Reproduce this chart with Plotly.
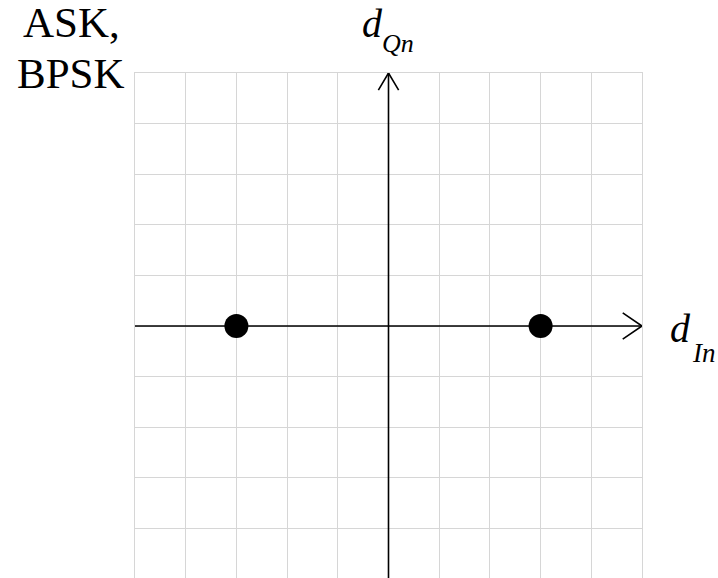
import plotly.graph_objects as go

# Constellation points for ASK / BPSK (in-phase, quadrature)
d_in = [-3, 3]
d_qn = [0, 0]

AX_MIN, AX_MAX = -5, 5
SERIF = "Liberation Serif, Times New Roman, serif"

fig = go.Figure()

# Axes drawn as lines through the origin
fig.add_trace(go.Scatter(x=[AX_MIN, AX_MAX], y=[0, 0], mode="lines",
                         line=dict(color="black", width=1.6), hoverinfo="skip"))
fig.add_trace(go.Scatter(x=[0, 0], y=[AX_MIN, AX_MAX], mode="lines",
                         line=dict(color="black", width=1.6), hoverinfo="skip"))

# Open arrowheads at the positive ends of both axes
ah_len, ah_half = 0.38, 0.26
fig.add_trace(go.Scatter(x=[AX_MAX - ah_len, AX_MAX, AX_MAX - ah_len],
                         y=[ah_half, 0, -ah_half], mode="lines",
                         line=dict(color="black", width=1.6), hoverinfo="skip"))
fig.add_trace(go.Scatter(x=[-0.2, 0, 0.2],
                         y=[AX_MAX - 0.34, AX_MAX, AX_MAX - 0.34], mode="lines",
                         line=dict(color="black", width=1.6), hoverinfo="skip"))

# Symbol points
fig.add_trace(go.Scatter(x=d_in, y=d_qn, mode="markers",
                         marker=dict(color="black", size=24), hoverinfo="skip"))

W, H = 718, 578
L, R, T, B = 135, 76, 73, 0


def label(px, py, text, size, anchor="left"):
    """Place a text label by its top edge in page pixels."""
    fig.add_annotation(x=(px - L) / (W - L - R), y=1 - (py - T) / (H - T - B),
                       xref="paper", yref="paper", text=text, showarrow=False,
                       font=dict(family=SERIF, size=size, color="black"),
                       xanchor=anchor, yanchor="top")


# Axis labels
label(668, 304, "<i>d</i>", 40)
label(690, 336, "<i>In</i>", 27)
label(360, -1, "<i>d</i>", 40)
label(380, 27, "<i>Qn</i>", 26)

# Modulation name
label(71, -3, "ASK,", 43, "center")
label(71, 48, "BPSK", 43, "center")

axis_common = dict(range=[AX_MIN, AX_MAX], dtick=1, tick0=0, showgrid=True,
                   gridcolor="#d6d6d6", gridwidth=1, zeroline=False,
                   showticklabels=False, ticks="", fixedrange=True,
                   showline=True, mirror=True, linecolor="#d6d6d6",
                   linewidth=1)
fig.update_xaxes(**axis_common)
fig.update_yaxes(**{**axis_common, "range": [AX_MIN + 0.02, AX_MAX]})

fig.update_layout(width=W, height=H, margin=dict(l=L, r=R, t=T, b=B),
                  plot_bgcolor="white", paper_bgcolor="white",
                  showlegend=False)

fig.write_html("out.html")
